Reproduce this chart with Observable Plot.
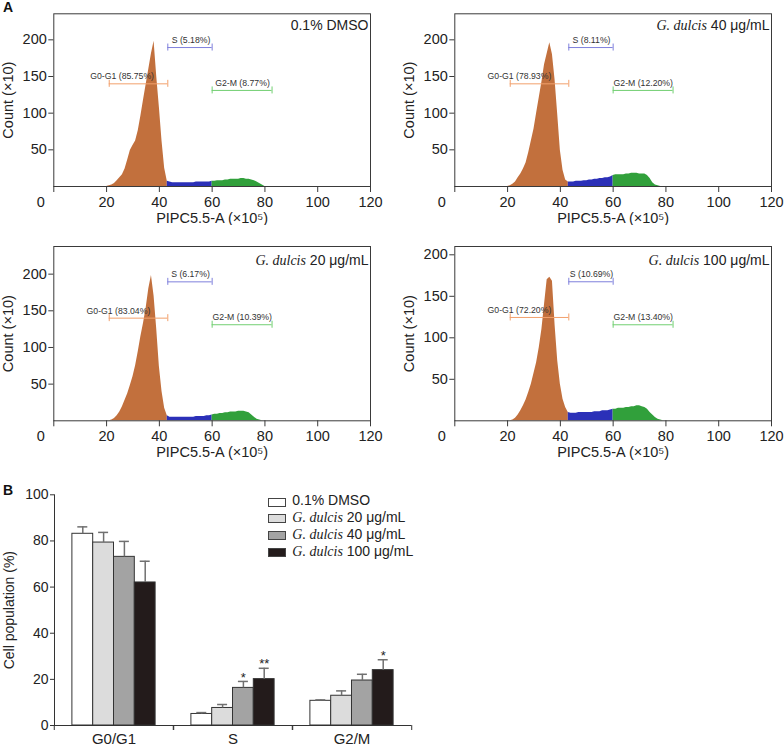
<!DOCTYPE html>
<html><head><meta charset="utf-8">
<script src="https://cdn.jsdelivr.net/npm/d3@7"></script>
<script src="https://cdn.jsdelivr.net/npm/@observablehq/plot@0.6"></script>
<style>
body{margin:0;background:#fff;font-family:"Liberation Sans",Arial,sans-serif;}
#root{position:relative;width:784px;height:747px;overflow:hidden;background:#fff;}
.panel{position:absolute;}
.leg{position:absolute;font-size:14px;line-height:14px;color:#222;white-space:nowrap;}
.sw{position:absolute;width:18px;height:9px;box-sizing:border-box;border:1px solid #444;}
.it{font-family:"Liberation Serif","Times New Roman",serif;font-style:italic;}
.letter{position:absolute;font-size:14px;line-height:14px;font-weight:bold;color:#111;}
</style></head><body><div id="root"></div>
<script>
// ---------- Panel A: DNA histograms (bin positions ×10^5, counts ×10) ----------
const fluorescence = d3.range(20, 81);
const countsDMSO = [0,1,2,4,8,12,16,24,36,49, 56,62,76,96,118,139,160,181,198,150, 108,62,25,7,6,5,5,5,5,5, 5,5,5,5,6,6,6,6,6,6, 7,7,8,8,8,9,9,10,10,10, 10,11,11,10,10,9,8,6,4,2, 0];
const counts40 = [0,1,3,6,12,17,24,32,46,62, 78,100,121,142,166,181,196,180,145,98, 49,22,9,6,6,6,7,7,7,8, 8,9,9,10,10,11,11,12,12,13, 15,16,16,16,16,17,17,18,18,18, 17,17,17,15,11,5,2,1,0,0, 0];
const counts20 = [0,0,1,3,7,12,19,28,37,48, 60,75,94,115,133,154,180,198,170,125, 74,40,17,7,5,5,5,5,5,5, 5,5,5,5,6,6,6,6,7,7, 8,9,9,10,10,11,11,12,12,12, 13,13,13,12,11,8,5,2,1,0, 0];
const counts100 = [0,0,1,3,7,12,18,25,34,44, 57,70,88,110,140,170,173,168,115,72, 44,26,16,10,9,9,9,10,10,10, 10,10,10,11,11,11,12,12,12,13, 14,14,15,15,15,16,16,17,17,18, 18,17,16,14,10,7,4,2,1,0, 0];

const gateNames = ["G0-G1", "S", "G2-M"];
const gateStart = [21, 43.2, 60];
const gateEnd = [43.2, 60, 82.7];
const phaseFills = ["#c2703d", "#2b30b8", "#31a03b"];
const gateColors = ["#f2a06c", "#7f80dc", "#72cf72"];

const gateLabelsDMSO = ["G0-G1 (85.75%)", "S (5.18%)", "G2-M (8.77%)"];
const gateLabels40 = ["G0-G1 (78.93%)", "S (8.11%)", "G2-M (12.20%)"];
const gateLabels20 = ["G0-G1 (83.04%)", "S (6.17%)", "G2-M (10.39%)"];
const gateLabels100 = ["G0-G1 (72.20%)", "S (10.69%)", "G2-M (13.40%)"];
const gateLevelsStd = [140, 189.5, 131];
const gateLevels100 = [124.5, 167.5, 115.7];
const labelXDMSO = [25.9, 52, 71.5];
const labelXOther = [24.5, 51.8, 71.4];

const xTicks = [20, 40, 60, 80, 100, 120];
const yTicksHist = [50, 100, 150, 200];

// ---------- Panel B: bar chart ----------
const phases = ["G0/G1", "S", "G2/M"];
const treatments = ["0.1% DMSO", "G. dulcis 20 μg/mL", "G. dulcis 40 μg/mL", "G. dulcis 100 μg/mL"];
const treatmentItalic = ["", "G. dulcis", "G. dulcis", "G. dulcis"];
const treatmentRest = ["0.1% DMSO", " 20 μg/mL", " 40 μg/mL", " 100 μg/mL"];
const barColors = ["#ffffff", "#dcdcdc", "#a3a3a3", "#231b1b"];
const meanG0G1 = [83.1, 79.3, 73.1, 62.0];
const sdG0G1 = [3.0, 4.4, 6.7, 9.2];
const meanS = [5.0, 7.6, 16.3, 20.1];
const sdS = [0.6, 1.5, 2.8, 4.7];
const meanG2M = [10.7, 12.9, 19.5, 24.0];
const sdG2M = [0.4, 2.1, 2.7, 4.5];
const sigG0G1 = ["", "", "", ""];
const sigS = ["", "", "*", "**"];
const sigG2M = ["", "", "", "*"];
const yTicksBar = [0, 20, 40, 60, 80, 100];

const FONT = "'Liberation Sans', Arial, sans-serif";
const SERIF = "'Liberation Serif', 'Times New Roman', serif";
const root = document.getElementById("root");

function place(el, left, top) {
  const d = document.createElement("div");
  d.className = "panel";
  d.style.left = left + "px";
  d.style.top = top + "px";
  d.appendChild(el);
  root.appendChild(d);
  return d;
}
function letter(ch, left, top) {
  const d = document.createElement("div");
  d.className = "letter";
  d.style.left = left + "px"; d.style.top = top + "px";
  d.textContent = ch;
  root.appendChild(d);
}

function histogram(L, counts, gateY, gateLabels, labelX, tItalic, tRest) {
  const pts = fluorescence.map((x, i) => ({x, y: counts[i]}));
  const seg = (a, b) => pts.filter(d => d.x >= a && d.x <= b);
  const segs = [seg(20, 43), seg(43, 60), seg(60, 80)];
  const plotH = L.height - L.mt - L.mb;
  const capHalf = 3.5 * L.yMax / plotH;
  const gateMarks = gateNames.flatMap((g, i) => {
    const gd = [{x1: gateStart[i], x2: gateEnd[i], y: gateY[i], lx: labelX[i], label: gateLabels[i]}];
    const ends = [gateStart[i], gateEnd[i]].map(x => ({x, ylo: gateY[i] - capHalf, yhi: gateY[i] + capHalf}));
    return [
      Plot.ruleY(gd, {x1: "x1", x2: "x2", y: "y", stroke: gateColors[i], strokeWidth: 1}),
      Plot.ruleX(ends, {x: "x", y1: "ylo", y2: "yhi", stroke: gateColors[i], strokeWidth: 1}),
      Plot.text(gd, {x: "lx", y: "y", text: "label", lineAnchor: "bottom", dy: -4.5, fontSize: 8.7, fill: "#333", ariaLabel: "gate-label"})
    ];
  });
  const svg = Plot.plot({
    width: L.width, height: L.height,
    marginLeft: L.ml, marginRight: L.mr, marginTop: L.mt, marginBottom: L.mb,
    style: {fontFamily: FONT, fontSize: "14.5px", color: "#222", background: "transparent"},
    x: {domain: [0, 120]},
    y: {domain: [0, L.yMax]},
    marks: [
      ...segs.map((s, i) => Plot.areaY(s, {x: "x", y: "y", fill: phaseFills[i]})),
      Plot.frame({stroke: "#3a3a3a", strokeWidth: 1}),
      Plot.axisX({ticks: [0, ...xTicks], tickFormat: d => d === 0 ? "" : d, tickSize: 6, tickPadding: 4, stroke: "#3a3a3a",
        label: "PIPC5.5-A (×10⁵)", labelAnchor: "center", labelArrow: "none", labelOffset: 36}),
      Plot.text([{x: 0, y: 0, t: "0"}], {x: "x", y: "y", text: "t", lineAnchor: "top", dy: 10, dx: -13, fontSize: 14.5, fill: "#222"}),
      Plot.axisY({ticks: yTicksHist, tickSize: 5, tickPadding: 2, stroke: "#3a3a3a",
        label: "Count (×10)", labelAnchor: "center", labelArrow: "none", labelOffset: 51}),
      ...gateMarks
    ]
  });
  place(svg, L.left, L.top);
  // white boxes behind gate labels
  d3.select(svg).selectAll('g[aria-label="gate-label"] text').each(function() {
    const b = this.getBBox();
    const r = document.createElementNS("http://www.w3.org/2000/svg", "rect");
    r.setAttribute("x", b.x - 1.5); r.setAttribute("y", b.y + 0.3);
    r.setAttribute("width", b.width + 3); r.setAttribute("height", b.height - 0.6);
    r.setAttribute("fill", "#fff"); r.setAttribute("stroke", "#c4c4c4"); r.setAttribute("stroke-width", 0.6);
    const tr = this.getAttribute("transform"); if (tr) r.setAttribute("transform", tr);
    this.parentNode.insertBefore(r, this);
  });
  const t = d3.select(svg).append("text")
    .attr("x", L.width - L.mr - 1.5).attr("y", L.titleY)
    .attr("text-anchor", "end").attr("font-size", 14).attr("fill", "#222").attr("font-family", FONT);
  if (tItalic) t.append("tspan").attr("font-family", SERIF).attr("font-style", "italic").text(tItalic);
  t.append("tspan").text(tRest.replace(/^ /, "\u00A0"));
}

histogram({left: 0, top: 0, width: 392, height: 225, ml: 53.3, mr: 22, mt: 13.3, mb: 39, yMax: 235.5, titleY: 30},
  countsDMSO, gateLevelsStd, gateLabelsDMSO, labelXDMSO, "", "0.1% DMSO");
histogram({left: 392, top: 0, width: 392, height: 225, ml: 62.3, mr: 13, mt: 13.3, mb: 39, yMax: 235.5, titleY: 30},
  counts40, gateLevelsStd, gateLabels40, labelXOther, "G. dulcis", " 40 μg/mL");
histogram({left: 0, top: 230, width: 392, height: 230, ml: 53.3, mr: 22, mt: 16, mb: 39.7, yMax: 237.7, titleY: 35},
  counts20, gateLevelsStd, gateLabels20, labelXOther, "G. dulcis", " 20 μg/mL");
histogram({left: 392, top: 230, width: 392, height: 230, ml: 62.3, mr: 13, mt: 16, mb: 39.7, yMax: 210, titleY: 35},
  counts100, gateLevels100, gateLabels100, labelXOther, "G. dulcis", " 100 μg/mL");

// ---------- Bar chart ----------
const means = [meanG0G1, meanS, meanG2M];
const sds = [sdG0G1, sdS, sdG2M];
const sigs = [sigG0G1, sigS, sigG2M];
const barData = phases.flatMap((p, pi) => treatments.map((t, ti) => ({
  phase: p, treatment: t, mean: means[pi][ti], top: means[pi][ti] + sds[pi][ti], sig: sigs[pi][ti]
})));
const BW = 460, BML = 53.3, BMR = 48.3;
const bandW = (BW - BML - BMR) / phases.length;
const bar = Plot.plot({
  width: BW, height: 277, marginLeft: BML, marginRight: BMR, marginTop: 24.3, marginBottom: 22,
  style: {fontFamily: FONT, fontSize: "15px", color: "#222", background: "transparent"},
  fx: {domain: phases, padding: 0, label: null},
  x: {domain: treatments, paddingInner: 0, paddingOuter: 0.86, round: false, axis: null},
  y: {domain: [0, 100]},
  color: {domain: treatments, range: barColors},
  marks: [
    Plot.frame({anchor: "left", facetAnchor: "left", stroke: "#333"}),
    Plot.ruleY([0], {stroke: "#333"}),
    Plot.axisY({ticks: yTicksBar, tickSize: 4, tickPadding: 2, stroke: "#333",
      label: "Cell population (%)", labelAnchor: "center", labelArrow: "none", labelOffset: 50, fontSize: 14}),
    Plot.axisFx({anchor: "bottom", tickSize: 0, tickPadding: 8, label: null}),
    Plot.axisFx({anchor: "bottom", tickSize: 5, tickFormat: () => "", dx: -bandW / 2, label: null, stroke: "#333"}),
    Plot.axisFx({anchor: "bottom", tickSize: 5, tickFormat: () => "", dx: bandW / 2, label: null, stroke: "#333"}),
    Plot.barY(barData, {fx: "phase", x: "treatment", y: "mean", fill: "treatment", stroke: "#333", strokeWidth: 1}),
    Plot.ruleX(barData, {fx: "phase", x: "treatment", y1: "mean", y2: "top", stroke: "#707070", strokeWidth: 1.5}),
    Plot.tickY(barData, {fx: "phase", x: "treatment", y: "top", stroke: "#707070", strokeWidth: 1.5, insetLeft: 5.4, insetRight: 5.4}),
    Plot.text(barData.filter(d => d.sig), {fx: "phase", x: "treatment", y: "top", text: "sig", dy: -4, fontSize: 13, fill: "#222"})
  ]
});
place(bar, 0, 470);

letter("A", 3, 0);
letter("B", 3, 483);

// legend
treatments.forEach((t, i) => {
  const sw = document.createElement("div");
  sw.className = "sw";
  sw.style.left = "267.5px"; sw.style.top = (497.5 + 16.7 * i) + "px";
  sw.style.background = barColors[i];
  root.appendChild(sw);
  const lab = document.createElement("div");
  lab.className = "leg";
  lab.style.left = "292.3px"; lab.style.top = (493.4 + 16.7 * i) + "px";
  if (treatmentItalic[i]) {
    const s = document.createElement("span"); s.className = "it"; s.textContent = treatmentItalic[i];
    lab.appendChild(s);
  }
  lab.appendChild(document.createTextNode(treatmentRest[i]));
  root.appendChild(lab);
});
</script></body></html>
